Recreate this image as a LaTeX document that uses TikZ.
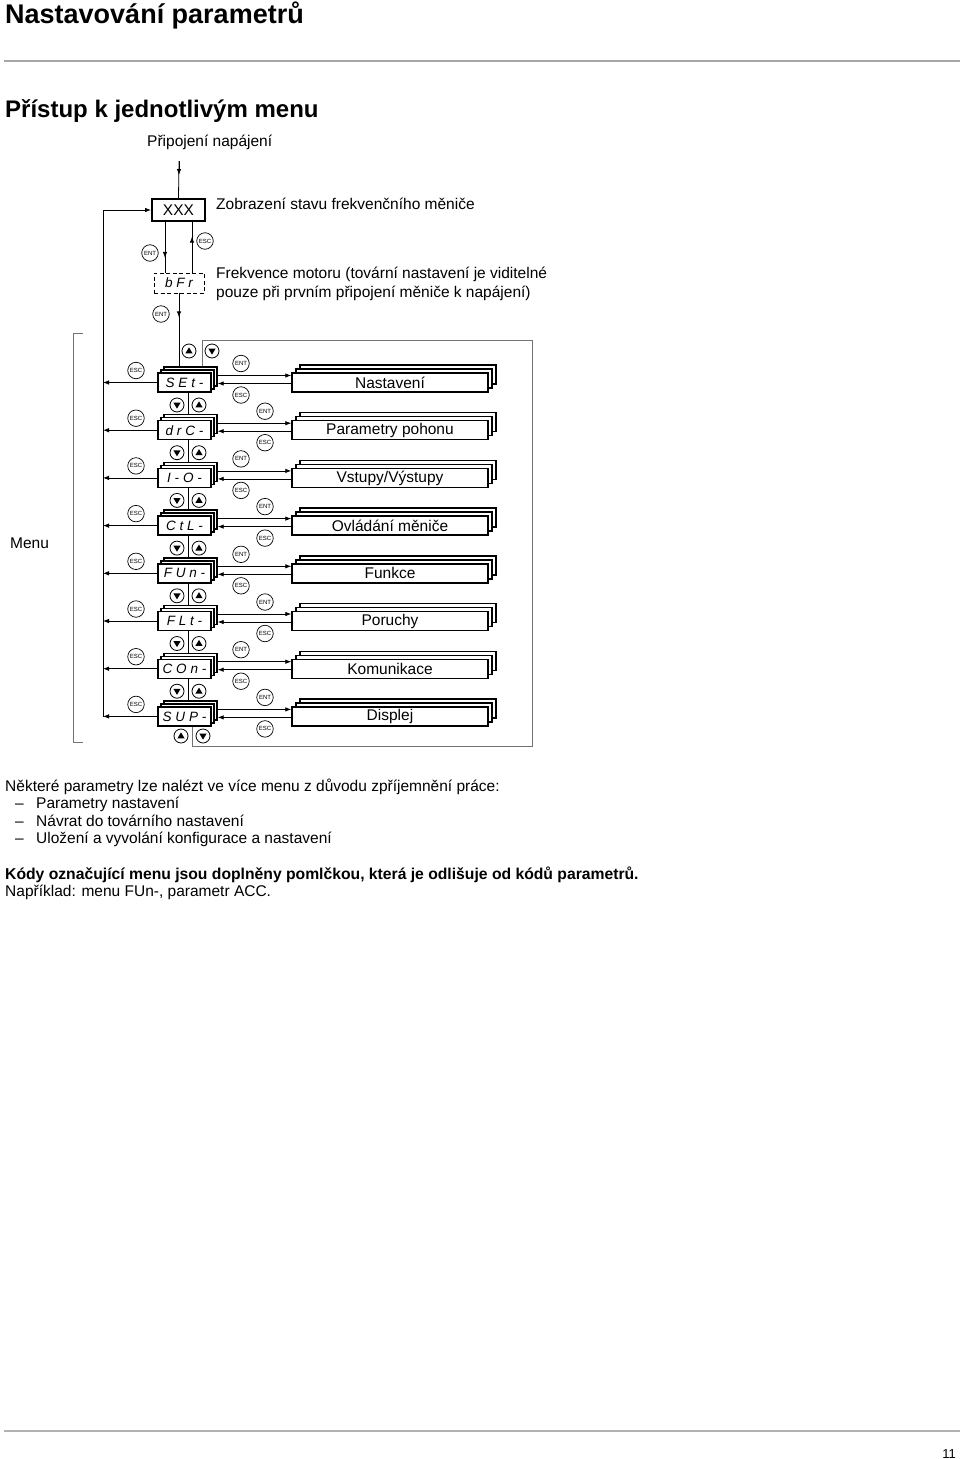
\documentclass[tikz,border=0pt]{standalone}
\usepackage{fontspec}
\setmainfont{Liberation Sans}
\newfontfamily\segfont[LetterSpace=28]{Liberation Sans}
\usetikzlibrary{arrows.meta}
\tikzset{
  ln/.style={line width=0.8pt},
  tipr/.style={line width=0.8pt,-{Latex[length=6pt,width=4.5pt]}},
  gry/.style={draw=black!55,line width=0.9pt},
  btn/.style={circle,draw,line width=0.7pt,minimum size=16.5pt,inner sep=0pt,fill=white,font=\fontsize{6}{6}\selectfont},
  udb/.style={circle,draw,line width=0.8pt,minimum size=14pt,inner sep=0pt,fill=white},
  menubox/.style={draw,line width=1.4pt,fill=white,minimum width=53pt,minimum height=19pt,inner sep=0pt,font=\segfont\itshape\fontsize{13.5}{14}\selectfont},
  labbox/.style={draw,line width=1.4pt,fill=white,minimum width=196pt,minimum height=19pt,inner sep=0pt,font=\fontsize{15.5}{18}\selectfont},
  txt/.style={anchor=base west,inner sep=0pt,font=\fontsize{15.5}{18}\selectfont},
  upt/.pic={\fill (-3.6,2.4) -- (3.6,2.4) -- (0,-3.6) -- cycle;},
  dnt/.pic={\fill (-3.6,-2.4) -- (3.6,-2.4) -- (0,3.6) -- cycle;},
}
\begin{document}
\begin{tikzpicture}[x=1pt,y=-1pt]
\useasboundingbox[fill=white] (0,0) rectangle (960,1459);

% headings
\node[anchor=base west,inner sep=0pt,font=\bfseries\fontsize{27}{30}\selectfont] (title) at (5,23) {Nastavování parametrů};
\draw[draw=black!35,line width=2pt] (4,61) -- (960,61);
\node[anchor=base west,inner sep=0pt,font=\bfseries\fontsize{24}{28}\selectfont] (sec) at (5,117) {Přístup k jednotlivým menu};
\node[txt] (pwrtxt) at (147,146) {Připojení napájení};

% top part
\coordinate (pwr) at (179,161);
\node[draw,line width=1.8pt,minimum width=53pt,minimum height=22pt,inner sep=0pt,font=\fontsize{15.5}{18}\selectfont] (xxx) at (178.5,210) {XXX};
\node[txt] (ztxt) at (216,209) {Zobrazení stavu frekvenčního měniče};
\node[draw,dashed,dash pattern=on 4pt off 2.5pt,line width=0.8pt,minimum width=50pt,minimum height=20pt,inner sep=0pt,font=\segfont\itshape\fontsize{13.5}{14}\selectfont] (bfr) at (179,283) {bFr};
\node[txt] (ftxt1) at (216,278) {Frekvence motoru (tovární nastavení je viditelné};
\node[txt] (ftxt2) at (216,297) {pouze při prvním připojení měniče k napájení)};

\draw[ln] (pwr) -- (xxx.north);
\draw[tipr] (pwr) -- ++(0,14);

\draw[ln] ([xshift=-13.5pt]xxx.south) -- ([xshift=-14pt]bfr.north);
\draw[tipr] ([xshift=-13.5pt]xxx.south) -- ++(0,36);
\node[btn] (ent0) at (150,253) {ENT};
\draw[ln] ([xshift=13pt]bfr.north) -- ([xshift=13.5pt]xxx.south);
\draw[tipr] ([xshift=13pt]bfr.north) -- ++(0,-36);
\node[btn] (esc0) at (205,241) {ESC};
\node[btn] (ent00) at (161,314) {ENT};

% menu label
\draw[gry] (83,333) -- (73,333) -- (73,742) -- (83,742);
\node[txt] (menulab) at (10,548) {Menu};

% spine
\coordinate (spineT) at (103,210);
\coordinate (spineB) at (103,716.5);
\draw[tipr] (spineB) -- (spineT) -- (xxx.west);

% rows
\foreach \i/\code/\lab in {1/SEt-/Nastavení,2/drC-/Parametry pohonu,3/I-O-/{Vstupy/Výstupy},4/CtL-/Ovládání měniče,5/FUn-/Funkce,6/FLt-/Poruchy,7/COn-/Komunikace,8/SUP-/Displej}{
  \pgfmathsetmacro\r{382.5+47.7*(\i-1)}
  \pgfmathsetmacro\bx{mod(\i,2)==1?241:265}
  % stacked menu boxes
  \node[menubox] (mb\i) at (190.5,\r-6) {};
  \node[menubox] (ma\i) at (187.5,\r-3) {};
  \node[menubox] (m\i) at (184.5,\r) {\code};
  % stacked label boxes
  \node[labbox] (lb\i) at (398,\r-8) {};
  \node[labbox] (la\i) at (394,\r-4) {};
  \node[labbox] (l\i) at (390,\r) {\lab};
  % arrows
  \draw[tipr] ([xshift=6pt,yshift=7pt]m\i.east) -- ([yshift=7pt]l\i.west);
  \draw[tipr] ([yshift=-1pt]l\i.west) -- ([xshift=6pt,yshift=-1pt]m\i.east);
  \draw[tipr] (m\i.west) -- (m\i.west -| spineT);
  % buttons
  \node[btn] (escl\i) at (136,\r-12) {ESC};
  \node[btn] (entr\i) at (\bx,\r-19) {ENT};
  \node[btn] (escr\i) at (\bx,\r+12.5) {ESC};
}
% connectors between rows
\foreach \i in {1,...,7}{
  \pgfmathtruncatemacro\j{\i+1}
  \pgfmathsetmacro\r{382.5+47.7*(\i-1)+22.5}
  \path ([xshift=3.5pt]m\i.south) coordinate (c\i);
  \draw[ln] (c\i) -- (c\i |- mb\j.north);
  \node[udb] (dn\i) at (177,\r) {};
  \pic at (dn\i) {dnt};
  \node[udb] (up\i) at (199,\r) {};
  \pic at (up\i) {upt};
}
% top entry and loop frame
\draw[ln] (bfr.south) -- (bfr.south |- mb1.north);
\draw[tipr] (bfr.south) -- ++(0,24);
\coordinate (fr1) at (202,340);
\coordinate (fr2) at (532,340);
\coordinate (fr3) at (532,746);
\coordinate (fr4) at (192,746);
\draw[gry] ([xshift=11.5pt]mb1.north) -- (fr1) -- (fr2) -- (fr3) -- (fr4) -- ([xshift=7.5pt]m8.south);
\node[udb] (uptop) at (189,351) {};
\pic at (uptop) {upt};
\node[udb] (dntop) at (212,351) {};
\pic at (dntop) {dnt};
\node[udb] (upbot) at (181,736) {};
\pic at (upbot) {upt};
\node[udb] (dnbot) at (203,736) {};
\pic at (dnbot) {dnt};

% notes
\node[txt] (p1) at (5,791) {Některé parametry lze nalézt ve více menu z důvodu zpříjemnění práce:};
\node[txt] (d1) at (15,808) {–};
\node[txt] (p2) at (36,808) {Parametry nastavení};
\node[txt] (d2) at (15,826) {–};
\node[txt] (p3) at (36,826) {Návrat do továrního nastavení};
\node[txt] (d3) at (15,843) {–};
\node[txt] (p4) at (36,843) {Uložení a vyvolání konfigurace a nastavení};
\node[txt,font=\bfseries\fontsize{15.7}{18}\selectfont] (p5) at (5,879) {Kódy označující menu jsou doplněny pomlčkou, která je odlišuje od kódů parametrů.};
\node[txt] (p6) at (5,896) {Například: menu FUn-, parametr ACC.};

% footer
\draw[draw=black!30,line width=1.5pt] (4,1431) -- (960,1431);
\node[anchor=base east,inner sep=0pt,font=\fontsize{13}{15}\selectfont] (pg) at (956,1458) {11};
\end{tikzpicture}
\end{document}
